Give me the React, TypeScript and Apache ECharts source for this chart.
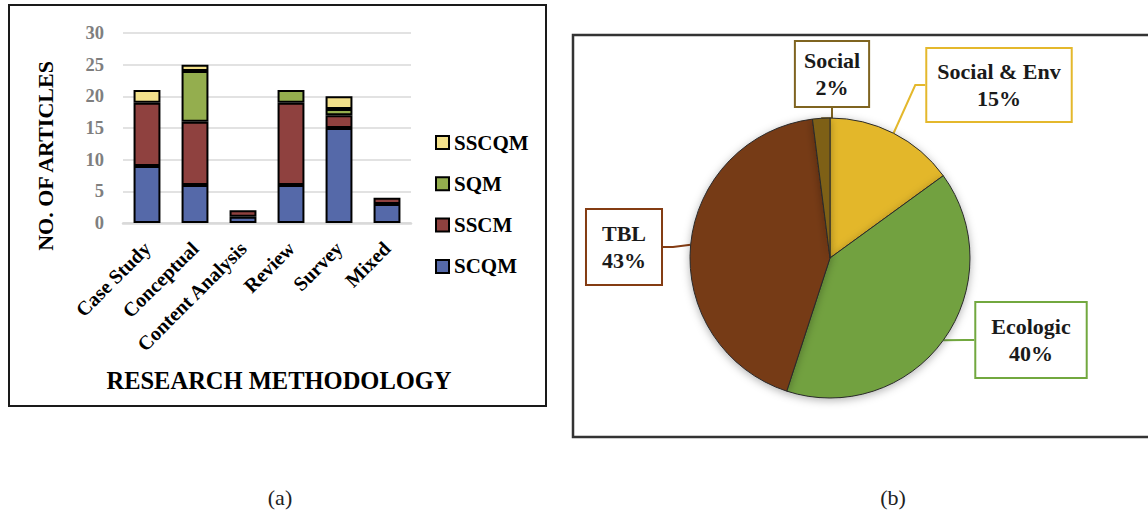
import React, { useEffect, useRef } from "react";
import * as echarts from "echarts";

// ---- data (a) ----
const categories = ["Case Study", "Conceptual", "Content Analysis", "Review", "Survey", "Mixed"];
const scqm = [9, 6, 1, 6, 15, 3];
const sscm = [10, 10, 1, 13, 2, 1];
const sqm = [0, 8, 0, 2, 1, 0];
const sscqm = [2, 1, 0, 0, 2, 0];
const yTicks = { min: 0, max: 30, interval: 5 };

// ---- data (b) ----
const pieNames = ["Social & Env", "Ecologic", "TBL", "Social"];
const pieValues = [15, 40, 43, 2];

// ---- styles ----
const barColors = { SCQM: "#5569A9", SSCM: "#8F413F", SQM: "#94AE4E", SSCQM: "#F3E18B" };
const pieColors = ["#E3B72A", "#72A13F", "#763A17", "#7E6116"];
const pieBorderColors = ["#E4B82C", "#72A83F", "#843C13", "#7F6420"];
const piePaddings = [[9, 10], [10, 15], [10, 15], [5, 8]];
const labelCenters = [[999, 85], [1031, 340], [624, 247], [832, 74]];
const FONT = "'Liberation Serif', 'Times New Roman', serif";

export default function App() {
  const ref = useRef<HTMLDivElement>(null);
  useEffect(() => {
    if (!ref.current) return;
    const chart = echarts.init(ref.current, undefined, { renderer: "svg" });
    const barSeries = (name: string, data: number[]) => ({
      name,
      type: "bar",
      stack: "total",
      barWidth: "56%",
      data: data.map((v) => (v === 0 ? "-" : v)),
      itemStyle: { color: (barColors as any)[name], borderColor: "#000", borderWidth: 2 },
    });
    chart.setOption({
      animation: false,
      textStyle: { fontFamily: FONT },
      grid: { left: 123, right: 737, top: 33, bottom: 292, containLabel: false },
      xAxis: {
        type: "category",
        data: categories,
        axisLine: { show: true, lineStyle: { color: "#d9d9d9", width: 2.5 } },
        axisTick: { show: false },
        axisLabel: { rotate: 45, interval: 0, fontSize: 20, fontWeight: "bold", color: "#000", margin: 22, fontFamily: FONT },
      },
      yAxis: {
        type: "value",
        min: yTicks.min,
        max: yTicks.max,
        interval: yTicks.interval,
        axisLine: { show: false },
        axisTick: { show: false },
        axisLabel: { fontSize: 18.5, fontWeight: "bold", color: "#7f7f7f", margin: 19, fontFamily: FONT },
        splitLine: { lineStyle: { color: "#d9d9d9", width: 1.5 } },
      },
      legend: {
        data: ["SSCQM", "SQM", "SSCM", "SCQM"],
        orient: "vertical",
        left: 430,
        top: 127,
        icon: "rect",
        itemWidth: 13,
        itemHeight: 13,
        itemGap: 20.3,
        textStyle: { fontSize: 21, fontWeight: "bold", color: "#000", lineHeight: 21, fontFamily: FONT },
      },
      series: [
        barSeries("SCQM", scqm),
        barSeries("SSCM", sscm),
        barSeries("SQM", sqm),
        barSeries("SSCQM", sscqm),
        {
          type: "pie",
          center: [830, 258],
          radius: 140,
          startAngle: 90,
          clockwise: true,
          itemStyle: {
            borderColor: "#2a2a2a",
            borderWidth: 1,
            shadowBlur: 8,
            shadowColor: "rgba(0,0,0,0.3)",
            shadowOffsetY: 2,
          },
          label: {
            show: true,
            formatter: "{b}\n{c}%",
            fontSize: 22,
            fontWeight: "bold",
            color: "#1a1a1a",
            lineHeight: 27,
            align: "center",
            backgroundColor: "#fff",
            borderWidth: 2,
            fontFamily: FONT,
          },
          labelLine: { show: true, length: 10, length2: 10, lineStyle: { width: 2 } },
          labelLayout: (p: any) => ({
            x: labelCenters[p.dataIndex][0],
            y: labelCenters[p.dataIndex][1],
            align: "center",
            verticalAlign: "middle",
          }),
          data: pieNames.map((n, i) => ({
            name: n,
            value: pieValues[i],
            itemStyle: { color: pieColors[i] },
            label: { borderColor: pieBorderColors[i], padding: piePaddings[i] },
            labelLine: { lineStyle: { color: pieBorderColors[i], width: 2 } },
          })),
        },
      ],
      graphic: [
        {
          type: "rect",
          silent: true,
          z: -1,
          shape: { x: 9, y: 5, width: 537, height: 401 },
          style: { fill: "none", stroke: "#1a1a1a", lineWidth: 2 },
        },
        {
          type: "rect",
          silent: true,
          z: -1,
          shape: { x: 573, y: 35, width: 620, height: 402 },
          style: { fill: "none", stroke: "#333", lineWidth: 2.5 },
        },
        {
          type: "text",
          x: 45,
          y: 156,
          rotation: Math.PI / 2,
          style: { text: "NO. OF ARTICLES", fontSize: 22, fontWeight: "bold", fontFamily: FONT, fill: "#000", align: "center", verticalAlign: "middle" },
        },
        {
          type: "text",
          x: 279,
          y: 380,
          style: { text: "RESEARCH METHODOLOGY", fontSize: 24.5, fontWeight: "bold", fontFamily: FONT, fill: "#000", align: "center", verticalAlign: "middle" },
        },
        {
          type: "text",
          x: 280,
          y: 497,
          style: { text: "(a)", fontSize: 22, fontFamily: FONT, fill: "#222", align: "center", verticalAlign: "middle" },
        },
        {
          type: "text",
          x: 893,
          y: 497,
          style: { text: "(b)", fontSize: 22, fontFamily: FONT, fill: "#222", align: "center", verticalAlign: "middle" },
        },
      ],
    });
    return () => chart.dispose();
  }, []);
  return (
    <div
      ref={ref}
      style={{ position: "absolute", left: 0, top: 0, width: 1148, height: 515, background: "#fff" }}
    />
  );
}
